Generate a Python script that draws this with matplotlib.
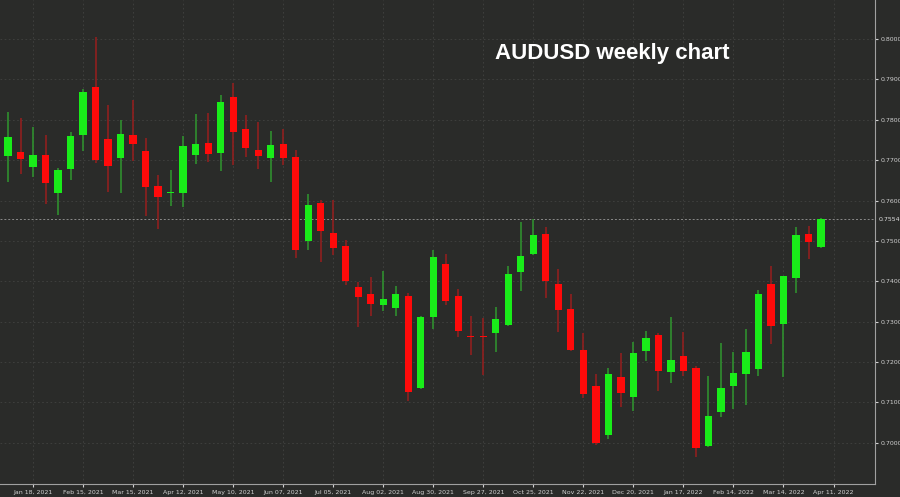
import numpy as np
import pandas as pd
import matplotlib
matplotlib.use("Agg")
import matplotlib.pyplot as plt

# weekly AUDUSD candles, starting week of Jan 04, 2021
opens = [0.7710, 0.7720, 0.7683, 0.7713, 0.7619, 0.7678, 0.7762, 0.7881, 0.7752, 0.7705,
         0.7762, 0.7723, 0.7636, 0.7618, 0.7619, 0.7713, 0.7743, 0.7718, 0.7856, 0.7777,
         0.7725, 0.7705, 0.7740, 0.7708, 0.7500, 0.7594, 0.7520, 0.7488, 0.7386, 0.7369,
         0.7342, 0.7334, 0.7364, 0.7136, 0.7312, 0.7443, 0.7364, 0.7263, 0.7263, 0.7272,
         0.7292, 0.7423, 0.7468, 0.7517, 0.7394, 0.7332, 0.7230, 0.7141, 0.7020, 0.7163,
         0.7114, 0.7228, 0.7267, 0.7176, 0.7215, 0.7186, 0.6993, 0.7077, 0.7141, 0.7171,
         0.7183, 0.7394, 0.7295, 0.7408, 0.7517, 0.7485]
highs = [0.7820, 0.7804, 0.7782, 0.7762, 0.7680, 0.7770, 0.7876, 0.8005, 0.7837, 0.7800,
         0.7849, 0.7755, 0.7663, 0.7676, 0.7760, 0.7814, 0.7817, 0.7861, 0.7891, 0.7812,
         0.7795, 0.7772, 0.7777, 0.7725, 0.7616, 0.7601, 0.7601, 0.7502, 0.7398, 0.7411,
         0.7426, 0.7389, 0.7370, 0.7315, 0.7478, 0.7468, 0.7380, 0.7314, 0.7309, 0.7337,
         0.7438, 0.7547, 0.7554, 0.7535, 0.7431, 0.7369, 0.7272, 0.7171, 0.7186, 0.7223,
         0.7250, 0.7277, 0.7272, 0.7312, 0.7275, 0.7190, 0.7166, 0.7248, 0.7225, 0.7282,
         0.7379, 0.7438, 0.7413, 0.7535, 0.7537, 0.7556]
lows = [0.7645, 0.7666, 0.7658, 0.7592, 0.7565, 0.7651, 0.7723, 0.7693, 0.7621, 0.7619,
        0.7698, 0.7562, 0.7530, 0.7587, 0.7584, 0.7691, 0.7696, 0.7673, 0.7688, 0.7708,
        0.7678, 0.7646, 0.7688, 0.7458, 0.7478, 0.7448, 0.7465, 0.7390, 0.7287, 0.7314,
        0.7327, 0.7314, 0.7104, 0.7134, 0.7282, 0.7342, 0.7262, 0.7218, 0.7168, 0.7225,
        0.7290, 0.7376, 0.7466, 0.7359, 0.7275, 0.7228, 0.7111, 0.6995, 0.7010, 0.7089,
        0.7079, 0.7203, 0.7129, 0.7149, 0.7166, 0.6965, 0.6990, 0.7064, 0.7084, 0.7094,
        0.7166, 0.7245, 0.7163, 0.7371, 0.7455, 0.7483]
closes = [0.7757, 0.7703, 0.7713, 0.7644, 0.7676, 0.7760, 0.7869, 0.7700, 0.7686, 0.7765,
          0.7740, 0.7634, 0.7609, 0.7620, 0.7735, 0.7740, 0.7715, 0.7844, 0.7770, 0.7730,
          0.7710, 0.7737, 0.7705, 0.7478, 0.7589, 0.7525, 0.7483, 0.7401, 0.7361, 0.7344,
          0.7356, 0.7369, 0.7126, 0.7312, 0.7460, 0.7351, 0.7277, 0.7261, 0.7261, 0.7307,
          0.7418, 0.7463, 0.7515, 0.7401, 0.7329, 0.7230, 0.7121, 0.7000, 0.7171, 0.7124,
          0.7223, 0.7260, 0.7178, 0.7205, 0.7178, 0.6988, 0.7067, 0.7136, 0.7173, 0.7225,
          0.7369, 0.7290, 0.7413, 0.7515, 0.7498, 0.7554]
last_price = 0.7554

weeks = pd.date_range("2021-01-04", periods=len(opens) + 1, freq="W-MON")
tick_idx = list(range(2, len(weeks), 4))
tick_labels = [weeks[i].strftime("%b %d, %Y") for i in tick_idx]

bg = "#2a2b29"
up_body, dn_body = "#19ec19", "#ff0a0a"
up_wick, dn_wick = "#2f8f2f", "#8f1f1f"

fig = plt.figure(figsize=(9, 4.97), dpi=100, facecolor=bg)
ax = fig.add_axes([0.0, 0.026, 0.972, 0.974], facecolor=bg)

x = np.arange(len(opens))
o, h, l, c = map(np.array, (opens, highs, lows, closes))
up = c >= o
for mask, bc, wc in ((up, up_body, up_wick), (~up, dn_body, dn_wick)):
    ax.vlines(x[mask], l[mask], h[mask], color=wc, lw=1.2, zorder=2)
    bottom = np.minimum(o, c)[mask]
    height = np.maximum(np.abs(c - o)[mask], 0.0004)
    ax.bar(x[mask], height, bottom=bottom, width=0.58, color=bc, zorder=3)

ax.set_xlim(-0.64, 69.3)
ax.set_ylim(0.6898, 0.80965)

yt = np.round(np.arange(0.70, 0.8001, 0.01), 2)
ax.set_yticks(yt)
ax.set_yticklabels([f"{v:.4f}" for v in yt])
ax.yaxis.tick_right()
ax.set_xticks(tick_idx)
ax.set_xticklabels(tick_labels)
ax.tick_params(colors="#d0d0d0", labelsize=4.5, length=2.5, pad=1.5)
ax.grid(True, color="#414240", ls=(0, (2, 3)), lw=0.6)
for side in ("top", "left"):
    ax.spines[side].set_visible(False)
for side in ("right", "bottom"):
    ax.spines[side].set_color("#a0a0a0")

ax.axhline(last_price, color="#8a8a8a", ls=(0, (2, 2)), lw=0.7, zorder=1)
ax.text(1.004, last_price, f"{last_price:.4f}", transform=ax.get_yaxis_transform(),
        color="#e0e0e0", fontsize=4.5, va="center", ha="left")

ax.text(0.70, 0.89, "AUDUSD weekly chart", transform=ax.transAxes, color="white",
        fontsize=16, fontweight="bold", ha="center", va="center",
        family=["Liberation Sans", "DejaVu Sans"])

fig.savefig("out.png", dpi=100, facecolor=bg)
